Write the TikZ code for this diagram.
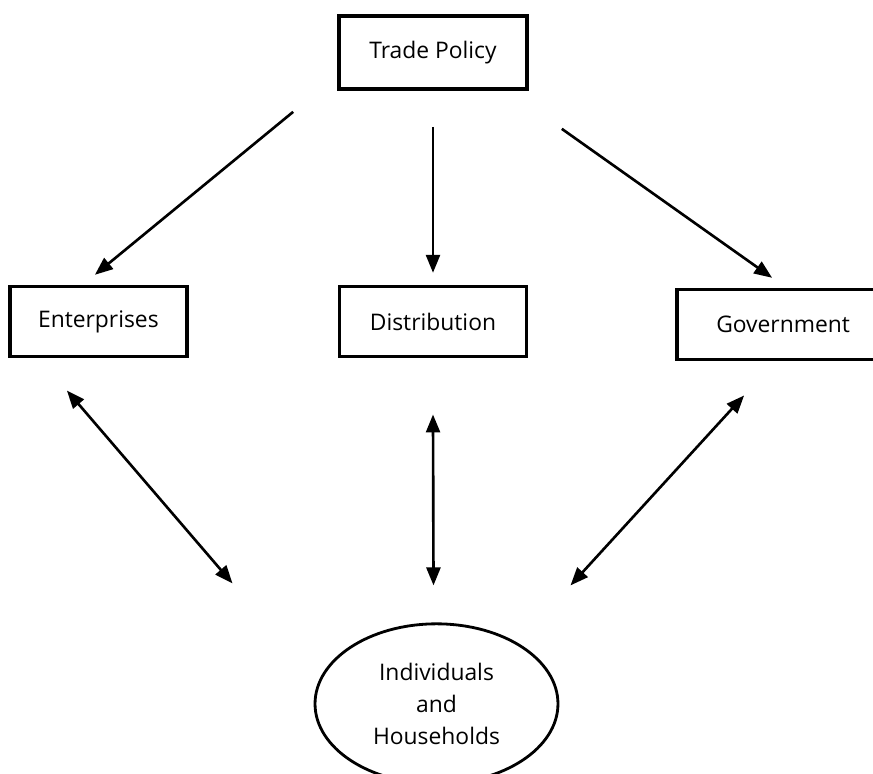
\documentclass[tikz,border=0pt]{standalone}
\usepackage{fontspec}
\setmainfont{Open Sans}
\usetikzlibrary{arrows.meta,positioning,shapes.geometric}

\begin{document}
\begin{tikzpicture}[
  x=0.02cm, y=-0.02cm,
  box/.style={draw, line width=2.1pt, align=center, minimum height=1.4cm, inner sep=2pt, font=\fontsize{13}{15}\selectfont},
  hh/.style={draw, ellipse, line width=1.6pt, align=center, minimum width=4.86cm, minimum height=3.2cm, inner sep=0pt, font=\fontsize{13}{18}\selectfont},
  arr/.style={-{Triangle[length=3.6mm,width=2.8mm]}, line width=1.5pt},
  darr/.style={{Triangle[length=3.6mm,width=2.8mm]}-{Triangle[length=3.6mm,width=2.8mm]}, line width=1.5pt}
]
\useasboundingbox (0,0) rectangle (873,774);
\node[box, minimum width=3.76cm, minimum height=1.46cm] (policy) at (433,52.5) {Trade Policy};
\node[box, minimum width=3.74cm, below=3.88cm of policy] (dist) {Distribution};
\node[box, minimum width=3.54cm, left=2.98cm of dist] (ent) {Enterprises};
\node[box, minimum width=4.24cm, right=2.94cm of dist, yshift=-0.06cm] (gov) {Government};
\node[hh, below=5.28cm of dist, xshift=0.07cm] (house) {Individuals\\and\\Households};
% one way, from the policy box
\draw[arr] ([shift={(-44,21)}]policy.south west) -- ([shift={(-3.5,-10)}]ent.north);
\draw[arr, shorten <=0.72cm, shorten >=0.24cm] (policy) -- (dist);
\draw[arr] ([shift={(33,38)}]policy.south east) -- ([shift={(-11,-10)}]gov.north);
% both ways, to the households
\draw[darr] ([shift={(-31.5,32)}]ent.south) -- ([shift={(-204,-39)}]house.north);
\draw[darr] ([shift={(0,56)}]dist.south) -- ([shift={(-3,-37)}]house.north);
\draw[darr] ([shift={(-39,34)}]gov.south) -- ([shift={(134,-37)}]house.north);
\end{tikzpicture}
\end{document}
